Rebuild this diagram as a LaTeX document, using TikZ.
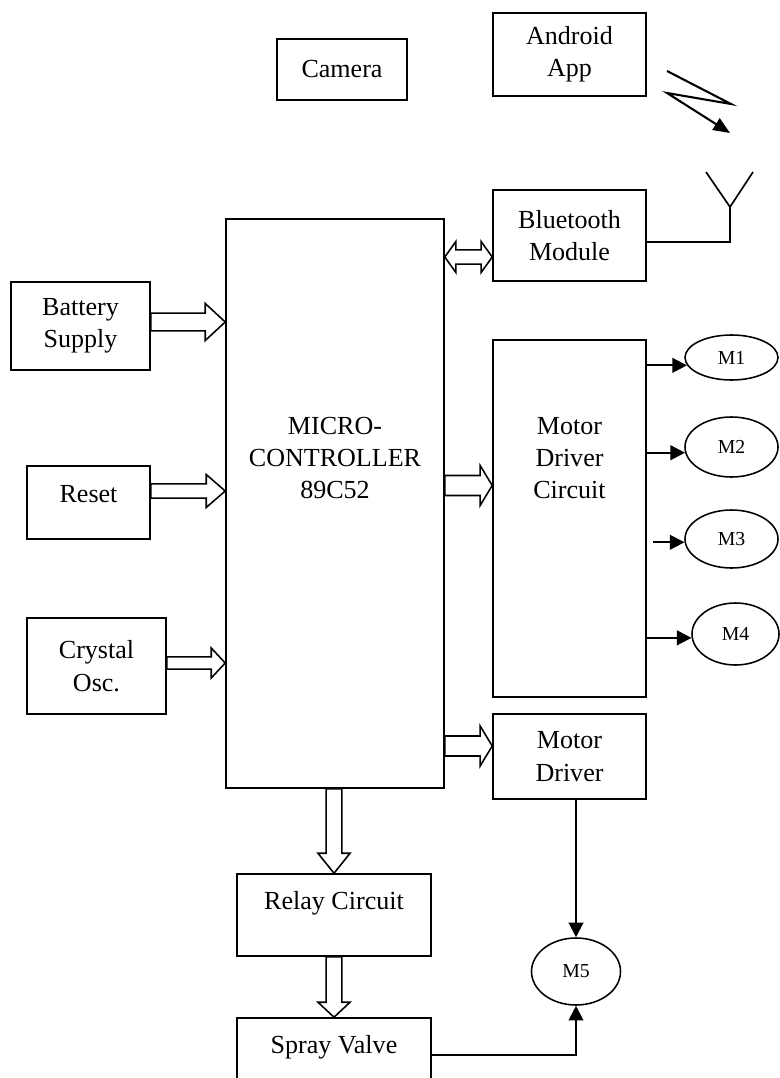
\documentclass[tikz,border=0pt]{standalone}
\usepackage{fontspec}
\setmainfont{Liberation Serif}
\usetikzlibrary{arrows.meta,calc,shapes.geometric}
\newcommand{\pxu}{0.48pt}
\tikzset{
  boxsize/.style 2 args={minimum width=#1*\pxu, minimum height=#2*\pxu},
  blk/.style={draw, line width=0.75pt, inner sep=0pt, align=center,
    font=\fontsize{12.5pt}{15.5pt}\selectfont},
  txt/.style={align=center, inner sep=0pt, font=\fontsize{12.5pt}{15.5pt}\selectfont},
  mot/.style={draw, ellipse, line width=0.75pt, inner sep=0pt,
    font=\fontsize{9.5pt}{11pt}\selectfont},
  arr/.style={line width=1pt, -{Triangle[length=7pt,width=7pt]}},
  fat/.style n args={3}{draw, line width=0.75pt, line join=miter,
    to path={let \p1=(\tikztostart), \p2=(\tikztotarget),
      \n1={atan2(\y2-\y1,\x2-\x1)}, \n2={veclen(\x2-\x1,\y2-\y1)-#3} in
      ($(\p1)+({\n1+90}:#1)$) -- ($(\p1)+(\n1:\n2*1pt)+({\n1+90}:#1)$)
      -- ($(\p1)+(\n1:\n2*1pt)+({\n1+90}:#2)$) -- (\p2)
      -- ($(\p1)+(\n1:\n2*1pt)+({\n1-90}:#2)$) -- ($(\p1)+(\n1:\n2*1pt)+({\n1-90}:#1)$)
      -- ($(\p1)+({\n1-90}:#1)$) -- cycle}},
  fatboth/.style n args={3}{draw, line width=0.75pt, line join=miter,
    to path={let \p1=(\tikztostart), \p2=(\tikztotarget),
      \n1={atan2(\y2-\y1,\x2-\x1)}, \n2={veclen(\x2-\x1,\y2-\y1)-#3} in
      (\p1) -- ($(\p1)+(\n1:#3)+({\n1+90}:#2)$) -- ($(\p1)+(\n1:#3)+({\n1+90}:#1)$)
      -- ($(\p1)+(\n1:\n2*1pt)+({\n1+90}:#1)$) -- ($(\p1)+(\n1:\n2*1pt)+({\n1+90}:#2)$)
      -- (\p2)
      -- ($(\p1)+(\n1:\n2*1pt)+({\n1-90}:#2)$) -- ($(\p1)+(\n1:\n2*1pt)+({\n1-90}:#1)$)
      -- ($(\p1)+(\n1:#3)+({\n1-90}:#1)$) -- ($(\p1)+(\n1:#3)+({\n1-90}:#2)$) -- cycle}}
}
\begin{document}
\begin{tikzpicture}[x=\pxu, y=-\pxu]
  \useasboundingbox (0,0) rectangle (779,1078);
  \node[blk, boxsize={130}{61}] (cam) at (342,69.5) {Camera};
  \node[blk, boxsize={153}{83}] (app) at (569.5,54.5) {Android\\App};
  \node[blk, boxsize={153}{91}] (bt) at (569.5,235.5) {Bluetooth\\Module};
  \node[blk, boxsize={139}{88}] (bat) at (80.5,326) {Battery\\Supply};
  \node[blk, boxsize={123}{73}, label={[txt, yshift=4pt]center:Reset}] (rst) at (88.5,502.5) {};
  \node[blk, boxsize={139}{96}] (osc) at (96.5,666) {Crystal\\Osc.};
  \node[blk, boxsize={218}{569}, label={[txt, yshift=21.8pt]center:{MICRO-\\CONTROLLER\\89C52}}] (mcu) at (335,503.5) {};
  \node[blk, boxsize={153}{357}, label={[txt, yshift=29pt]center:{Motor\\Driver\\Circuit}}] (mdc) at (569.5,518.5) {};
  \node[blk, boxsize={153}{85}] (md) at (569.5,756.5) {Motor\\Driver};
  \node[blk, boxsize={194}{82}, label={[txt, yshift=5.8pt]center:Relay Circuit}] (rel) at (334,915) {};
  \node[blk, boxsize={194}{82}, label={[txt, yshift=5.8pt]center:Spray Valve}] (spr) at (334,1059) {};
  \node[mot, boxsize={93}{45}] (m1) at (731.5,357.5) {M1};
  \node[mot, boxsize={93}{60}] (m2) at (731.5,447) {M2};
  \node[mot, boxsize={93}{58}] (m3) at (731.5,539) {M3};
  \node[mot, boxsize={87}{62}] (m4) at (735.5,634) {M4};
  \node[mot, boxsize={89}{67}] (m5) at (576,971.5) {M5};

  \draw[fat={4.3pt}{8.9pt}{9.6pt}] ($(bat.east)+(0,-4)$) to ($(bat.east -| mcu.west)+(0,-4)$);
  \draw[fat={3.4pt}{7.9pt}{9.1pt}] ($(rst.east)+(0,-11.5)$) to ($(rst.east -| mcu.west)+(0,-11.5)$);
  \draw[fat={2.9pt}{7.2pt}{6.7pt}] ($(osc.east)+(0,-3)$) to ($(osc.east -| mcu.west)+(0,-3)$);
  \draw[fatboth={3.4pt}{7.4pt}{5.3pt}] ($(mcu.east |- bt.west)+(0,21.5)$) to ($(bt.west)+(0,21.5)$);
  \draw[fat={4.8pt}{9.6pt}{5.8pt}] ($(mcu.east |- mdc.west)+(0,-33)$) to ($(mdc.west)+(0,-33)$);
  \draw[fat={4.8pt}{9.6pt}{5.8pt}] ($(mcu.east |- md.west)+(0,-10.5)$) to ($(md.west)+(0,-10.5)$);
  \draw[fat={3.8pt}{7.7pt}{9.6pt}] (mcu.south -| rel.north) to (rel.north);
  \draw[fat={3.8pt}{7.7pt}{7.2pt}] (rel.south) to (spr.north);

  \draw[arr] (mdc.east |- m1.190) -- (m1.190);
  \draw[arr] (mdc.east |- m2.187) -- (m2.187);
  \coordinate (m3tail) at ($(mdc.east |- m3.184)+(6,0)$);
  \draw[arr] (m3tail) -- (m3.184);
  \draw[arr] (mdc.east |- m4.185) -- (m4.185);
  \draw[arr] (md.south -| m5.north) -- (m5.north);
  \draw[arr] ($(spr.east)+(0,-4)$) -| (m5.south);

  \coordinate (antfoot) at (730,242);
  \draw[line width=0.8pt] (antfoot -| bt.east) -- (antfoot) -- (730,207);
  \draw[line width=0.8pt] (706,172) -- (730,207) -- (753,172);
  \draw[line width=1pt, -{Triangle[length=8pt,width=6.5pt]}] (667,71) -- (731,104) -- (667,93) -- (730,133);
\end{tikzpicture}
\end{document}
